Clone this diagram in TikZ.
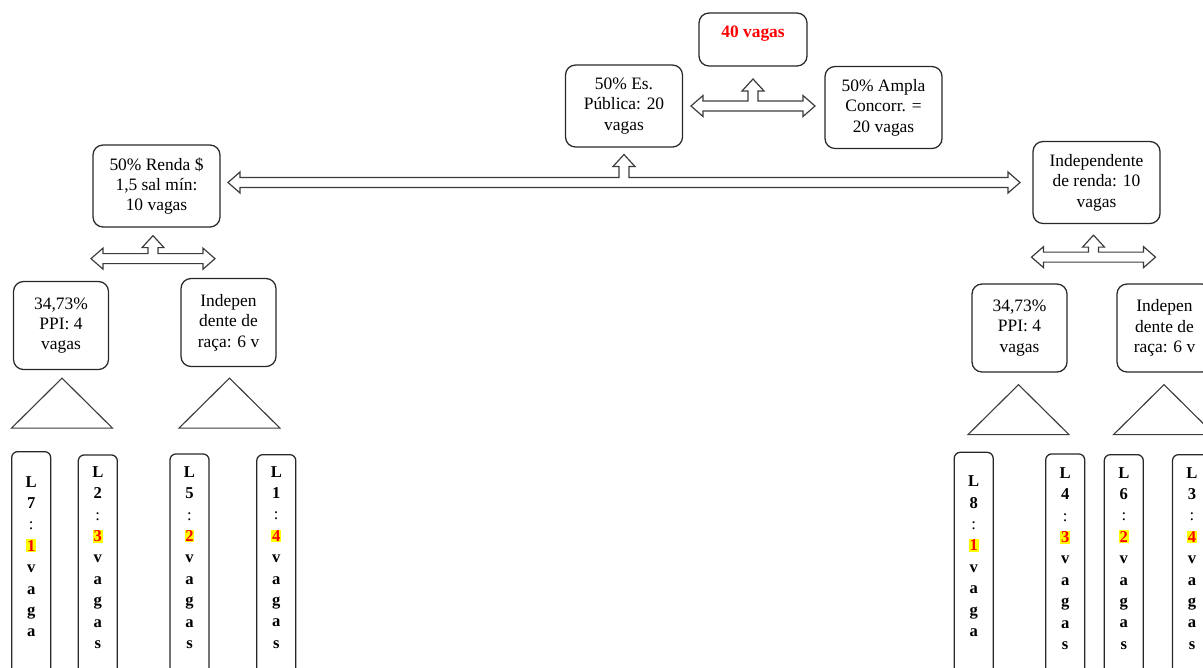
\documentclass[tikz,border=0pt]{standalone}
\usepackage{fontspec}
\setmainfont{Liberation Serif}
\usepackage{xcolor}
\usepackage{tikz}
\usetikzlibrary{positioning,calc}
\definecolor{boxline}{RGB}{40,40,40}
\definecolor{arrowgray}{RGB}{60,60,60}
\definecolor{hired}{RGB}{255,0,0}
\definecolor{hiyellow}{RGB}{255,255,0}
\newcommand{\pxu}{0.025cm}
\newcommand{\hl}[1]{{\setlength{\fboxsep}{0.6pt}\colorbox{hiyellow}{\textcolor{hired}{#1}}}}

\begin{document}
\begin{tikzpicture}[
    x=0.025cm, y={(0,-0.025cm)},
    box/.style={rectangle, draw=boxline, line width=0.9pt, rounded corners=0.25cm, align=center, inner sep=0pt, font=\fontsize{12.4}{14.5}\selectfont, minimum width=117*\pxu, minimum height=82*\pxu},
    subbox/.style={box, minimum width=95*\pxu, minimum height=88*\pxu},
    slot/.style={rectangle, draw=boxline, line width=0.9pt, rounded corners=0.15cm, anchor=north, inner sep=0pt, minimum width=39*\pxu, minimum height=260*\pxu},
    slottext/.style={align=center, anchor=north, inner sep=0pt, font=\fontsize{11.8}{15.2}\selectfont\bfseries},
    tri/.style={draw=arrowgray, line width=0.8pt},
    fatarrow/.style={draw=arrowgray, line width=0.85pt, fill=white},
    pics/lrarrow/.style 2 args={code={
        \draw[fatarrow] (-#1,0) -- (-#1+12,-10.5) -- (-#1+12,-5) -- (-5,-5) -- (-5,-#2+12)
            -- (-11,-#2+12) -- (0,-#2) -- (11,-#2+12) -- (5,-#2+12) -- (5,-5)
            -- (#1-12,-5) -- (#1-12,-10.5) -- (#1,0) -- (#1-12,10.5) -- (#1-12,5)
            -- (-#1+12,5) -- (-#1+12,10.5) -- cycle;
    }}
]
\useasboundingbox (0,0) rectangle (1203,667);
\clip (0,0) rectangle (1203,667);
\fill[white] (0,0) rectangle (1203,667);

% Top level
\node[box, minimum width=108*\pxu, minimum height=53*\pxu, text height=9pt, text depth=12pt, font=\fontsize{12.4}{14.5}\selectfont\bfseries, text=hired] (total) at (753,39.5) {40 vagas};
\node[box] (espub) at (624,106) {50\% Es.\\Pública: 20\\vagas};
\node[box] (ampla) at (883.5,107.5) {50\% Ampla\\Concorr. =\\20 vagas};

% Income level
\node[box, minimum width=127*\pxu] (renda) at (156.5,186) {50\% Renda \$\\1,5 sal mín:\\10 vagas};
\node[box, minimum width=127*\pxu] (rind) at (1096.5,182.5) {Independente\\de renda: 10\\vagas};

% Race level
\node[subbox] (ppil) at (61,325.5) {34,73\%\\PPI: 4\\vagas};
\node[subbox] (racal) at (228.5,322.5) {Indepen\\dente de\\raça: 6 v};
\node[subbox] (ppir) at (1019.5,328) {34,73\%\\PPI: 4\\vagas};
\node[subbox] (racar) at (1164.5,328) {Indepen\\dente de\\raça: 6 v};

% Arrows
\pic at (total.south |- espub.east) {lrarrow={62}{27}};
\pic at (espub.south |- rind.west) {lrarrow={396}{28}};
\pic at ($(renda.south)+(-3.5,31)$) {lrarrow={62}{23}};
\pic at ($(rind.south)+(-3,33)$) {lrarrow={62}{22}};

% Triangles
\draw[tri] (ppil.south) ++(1,8) -- ++(50.5,50) -- ++(-101,0) -- cycle;
\draw[tri] (racal.south) ++(1,11) -- ++(50.5,50) -- ++(-101,0) -- cycle;
\draw[tri] (ppir.south) ++(-1,12) -- ++(50.5,50) -- ++(-101,0) -- cycle;
\draw[tri] (racar.south) ++(-0.5,12) -- ++(50.5,50) -- ++(-101,0) -- cycle;

% Lists (left)
\node[slot] (l7) at (31.2,451) {};
\node[slottext] (l7t) at ($(l7.north)+(0,25)$) {L\\7\\{\mdseries :}\\\hl{1}\\v\\a\\g\\a};
\node[slot] (l2) at (97.8,454.3) {};
\node[slottext] (l2t) at ($(l2.north)+(0,12)$) {L\\2\\{\mdseries :}\\\hl{3}\\v\\a\\g\\a\\s};
\node[slot] (l5) at (189.5,453.3) {};
\node[slottext] (l5t) at ($(l5.north)+(0,13)$) {L\\5\\{\mdseries :}\\\hl{2}\\v\\a\\g\\a\\s};
\node[slot] (l1) at (276.3,454) {};
\node[slottext] (l1t) at ($(l1.north)+(0,12)$) {L\\1\\{\mdseries :}\\\hl{4}\\v\\a\\g\\a\\s};

% Lists (right)
\node[slot] (l8) at (973.7,451.7) {};
\node[slottext] (l8t) at ($(l8.north)+(0,24)$) {L\\8\\{\mdseries :}\\\hl{1}\\v\\a\\g\\a};
\node[slot] (l4) at (1065.2,453.3) {};
\node[slottext] (l4t) at ($(l4.north)+(0,14)$) {L\\4\\{\mdseries :}\\\hl{3}\\v\\a\\g\\a\\s};
\node[slot] (l6) at (1123.8,454) {};
\node[slottext] (l6t) at ($(l6.north)+(0,13)$) {L\\6\\{\mdseries :}\\\hl{2}\\v\\a\\g\\a\\s};
\node[slot] (l3) at (1192,454) {};
\node[slottext] (l3t) at ($(l3.north)+(0,13)$) {L\\3\\{\mdseries :}\\\hl{4}\\v\\a\\g\\a\\s};

\end{tikzpicture}
\end{document}
